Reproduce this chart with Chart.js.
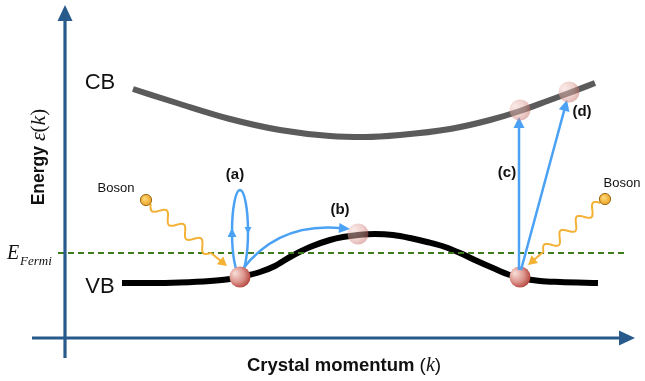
<!DOCTYPE html>
<html>
<head>
<meta charset="utf-8">
<script src="https://cdn.jsdelivr.net/npm/chart.js@4.4.1/dist/chart.umd.min.js"></script>
<style>
  html, body { margin: 0; padding: 0; background: #ffffff; }
  canvas { display: block; }
</style>
</head>
<body>
<canvas id="band" width="645" height="381"></canvas>
<script>
// Band structure sketch: energy versus crystal momentum k (arbitrary units)

// Conduction band
const cbK = [13.6, 23.0, 33.0, 43.0, 53.0, 60.0, 67.0, 77.0, 85.0, 91.0, 97.0, 100.8, 106.0];
const cbE = [49.8, 46.8, 43.8, 41.6, 40.4, 40.2, 40.6, 41.8, 43.6, 45.4, 47.6, 49.0, 51.0];

// Valence band
const vbK = [11.4, 17.0, 23.0, 29.0, 33.0, 35.0, 39.0, 42.0, 45.0, 49.0, 53.0, 55.6, 58.6, 62.0,
             65.6, 69.0, 72.4, 76.0, 79.0, 82.4, 85.6, 89.0, 91.2, 95.0, 99.0, 106.6];
const vbE = [11.0, 11.0, 11.1, 11.4, 11.8, 12.2, 13.2, 14.4, 16.2, 18.2, 19.6, 20.2, 20.6, 20.8,
             20.6, 20.0, 19.2, 18.2, 17.0, 15.4, 14.0, 12.6, 12.0, 11.4, 11.2, 11.0];

// Fermi level and its drawn extent in k
const fermiLevel = 17.0;
const fermiK = [-1.4, 112.0];

// Carriers: position, and whether occupied (solid) or the final state (faded)
const carrierK = [35.0, 91.0, 58.6, 91.0, 100.8];
const carrierE = [12.2, 12.2, 20.8, 45.6, 49.2];
const carrierSolid = [true, true, false, false, false];

// Transitions (a) loop, (b) curved, (c) vertical, (d) oblique
const loopA = { k: 35.0, e: 21.2, rk: 1.6, re: 8.4 };
const arrowB = { from: [35.4, 13.6], ctrl: [42.6, 23.2], to: [57.0, 21.8] };
const arrowC = { from: [90.8, 13.6], to: [90.8, 44.2] };
const arrowD = { from: [91.2, 13.6], to: [100.4, 47.6] };

// Bosons: source position and where the wavy arrow points
const bosonK = [16.2, 108.0];
const bosonE = [27.6, 27.8];
const bosonTipK = [32.4, 92.6];
const bosonTipE = [14.4, 14.6];

// Text
const transitionLabels = ['(a)', '(b)', '(c)', '(d)'];
const transitionLabelK = [34.0, 55.0, 88.4, 103.4];
const transitionLabelE = [32.6, 25.6, 33.0, 45.2];

const SANS = '"Liberation Sans", Arial, Helvetica, sans-serif';
const SERIF = '"Liberation Serif", "Times New Roman", serif';
const AXIS_BLUE = '#285a8c';
const ARROW_BLUE = '#4ba2f4';
const BOSON_ORANGE = '#f3b235';

function pts(ks, es) { return ks.map((k, i) => ({ x: k, y: es[i] })); }

function head(ctx, tx, ty, ang, len, half, color) {
  const c = Math.cos(ang), s = Math.sin(ang);
  ctx.save();
  ctx.fillStyle = color;
  ctx.beginPath();
  ctx.moveTo(tx, ty);
  ctx.lineTo(tx - len * c + half * s, ty - len * s - half * c);
  ctx.lineTo(tx - len * c - half * s, ty - len * s + half * c);
  ctx.closePath();
  ctx.fill();
  ctx.restore();
}

function straightArrow(ctx, x0, y0, x1, y1, color, width, len, half) {
  const ang = Math.atan2(y1 - y0, x1 - x0);
  ctx.save();
  ctx.strokeStyle = color;
  ctx.lineWidth = width;
  ctx.beginPath();
  ctx.moveTo(x0, y0);
  ctx.lineTo(x1 - (len - 2) * Math.cos(ang), y1 - (len - 2) * Math.sin(ang));
  ctx.stroke();
  ctx.restore();
  head(ctx, x1, y1, ang, len, half, color);
}

function wavyArrow(ctx, x0, y0, x1, y1) {
  const len = 9, half = 5;
  const ang = Math.atan2(y1 - y0, x1 - x0);
  const ux = Math.cos(ang), uy = Math.sin(ang);
  const nx = -uy, ny = ux;
  const ex = x1 - (len - 2) * ux, ey = y1 - (len - 2) * uy;
  const L = Math.hypot(ex - x0, ey - y0);
  const waveEnd = 0.85, periods = 3.5, amp = 5;
  ctx.save();
  ctx.strokeStyle = BOSON_ORANGE;
  ctx.lineWidth = 2;
  ctx.lineJoin = 'round';
  ctx.beginPath();
  for (let i = 0; i <= 200; i++) {
    const t = i / 200;
    const w = t <= waveEnd ? amp * Math.sin(2 * Math.PI * periods * t / waveEnd) : 0;
    const x = x0 + ux * L * t + nx * w;
    const y = y0 + uy * L * t + ny * w;
    if (i === 0) ctx.moveTo(x, y); else ctx.lineTo(x, y);
  }
  ctx.stroke();
  ctx.restore();
  head(ctx, x1, y1, ang, len, half, BOSON_ORANGE);
}

function carrier(ctx, x, y, solid) {
  const r = 10.5;
  ctx.save();
  const g = ctx.createRadialGradient(x - 5, y - 4, 1, x - 2, y - 1, r + 3);
  if (solid) {
    g.addColorStop(0, '#f6d8d2');
    g.addColorStop(0.55, '#db9189');
    g.addColorStop(1, '#ab3a32');
  } else {
    ctx.globalAlpha = 0.5;
    g.addColorStop(0, '#f4d2cc');
    g.addColorStop(0.6, '#e0a49c');
    g.addColorStop(1, '#c0605a');
  }
  ctx.fillStyle = g;
  ctx.beginPath();
  ctx.arc(x, y, r, 0, Math.PI * 2);
  ctx.fill();
  ctx.restore();
}

function boson(ctx, x, y) {
  ctx.save();
  const g = ctx.createRadialGradient(x - 1.5, y - 1.5, 0.5, x, y, 6.5);
  g.addColorStop(0, '#fcd877');
  g.addColorStop(1, '#eb9d1e');
  ctx.fillStyle = g;
  ctx.strokeStyle = '#9a6a12';
  ctx.lineWidth = 1;
  ctx.beginPath();
  ctx.arc(x, y, 5.6, 0, Math.PI * 2);
  ctx.fill();
  ctx.stroke();
  ctx.restore();
}

// Draw a run of text pieces with individual fonts, centred on (cx, cy)
function richText(ctx, pieces, cx, cy) {
  let total = 0;
  pieces.forEach(p => { ctx.font = p.font; p.w = ctx.measureText(p.t).width; total += p.w; });
  let x = cx - total / 2;
  ctx.textBaseline = 'middle';
  ctx.textAlign = 'left';
  pieces.forEach(p => { ctx.font = p.font; ctx.fillText(p.t, x, cy + (p.dy || 0)); x += p.w; });
}

const sketch = {
  id: 'sketch',
  afterDatasetsDraw(chart) {
    const ctx = chart.ctx;
    const X = v => chart.scales.x.getPixelForValue(v);
    const Y = v => chart.scales.y.getPixelForValue(v);

    // Axes with arrowheads
    const ox = X(0), oy = Y(0);
    straightArrow(ctx, ox, Y(-4.0), ox, Y(66.6), AXIS_BLUE, 3.2, 16, 7.5);
    straightArrow(ctx, X(-6.6), oy, X(114.0), oy, AXIS_BLUE, 3.2, 16, 7.5);

    // Boson sources and wavy arrows
    for (let i = 0; i < bosonK.length; i++) {
      const bx = X(bosonK[i]), by = Y(bosonE[i]);
      const tx = X(bosonTipK[i]), ty = Y(bosonTipE[i]);
      const a = Math.atan2(ty - by, tx - bx);
      wavyArrow(ctx, bx + 6 * Math.cos(a), by + 6 * Math.sin(a), tx, ty);
      boson(ctx, bx, by);
    }

    // (a) closed loop transition
    ctx.save();
    ctx.strokeStyle = ARROW_BLUE;
    ctx.lineWidth = 2.5;
    const lx = X(loopA.k), ly = Y(loopA.e);
    const rx = X(loopA.k + loopA.rk) - lx, ry = ly - Y(loopA.e + loopA.re);
    ctx.beginPath();
    ctx.ellipse(lx, ly, rx, ry, 0, 0, Math.PI * 2);
    ctx.stroke();
    ctx.restore();
    head(ctx, lx - rx, ly - 4, -Math.PI / 2, 9, 4.5, ARROW_BLUE);
    head(ctx, lx + rx, ly + 2, Math.PI / 2, 7, 3.5, ARROW_BLUE);

    // (b) curved intraband transition
    {
      const x0 = X(arrowB.from[0]), y0 = Y(arrowB.from[1]);
      const cx = X(arrowB.ctrl[0]), cy = Y(arrowB.ctrl[1]);
      const x1 = X(arrowB.to[0]), y1 = Y(arrowB.to[1]);
      const ang = Math.atan2(y1 - cy, x1 - cx);
      const ex = x1 - 8 * Math.cos(ang), ey = y1 - 8 * Math.sin(ang);
      ctx.save();
      ctx.strokeStyle = ARROW_BLUE;
      ctx.lineWidth = 2.5;
      ctx.beginPath();
      ctx.moveTo(x0, y0);
      ctx.quadraticCurveTo(cx, cy, ex, ey);
      ctx.stroke();
      ctx.restore();
      head(ctx, x1, y1, ang, 11, 5, ARROW_BLUE);
    }

    // Solid carriers in the valence band
    for (let i = 0; i < carrierK.length; i++) {
      if (carrierSolid[i]) carrier(ctx, X(carrierK[i]), Y(carrierE[i]), true);
    }

    // (c) and (d) interband transitions
    straightArrow(ctx, X(arrowC.from[0]), Y(arrowC.from[1]), X(arrowC.to[0]), Y(arrowC.to[1]), ARROW_BLUE, 2.5, 11, 5.5);
    straightArrow(ctx, X(arrowD.from[0]), Y(arrowD.from[1]), X(arrowD.to[0]), Y(arrowD.to[1]), ARROW_BLUE, 2.5, 11, 5.5);

    // Final states (faded)
    for (let i = 0; i < carrierK.length; i++) {
      if (!carrierSolid[i]) carrier(ctx, X(carrierK[i]), Y(carrierE[i]), false);
    }

    // Labels
    ctx.save();
    ctx.fillStyle = '#111111';
    ctx.textAlign = 'center';
    ctx.textBaseline = 'middle';
    ctx.font = 'bold 15px ' + SANS;
    transitionLabels.forEach((t, i) => ctx.fillText(t, X(transitionLabelK[i]), Y(transitionLabelE[i])));

    ctx.font = '22px ' + SANS;
    ctx.fillText('CB', 100, 83);
    ctx.fillText('VB', 100, 287);

    ctx.font = '13px ' + SANS;
    ctx.fillText('Boson', 116, 188);
    ctx.fillText('Boson', 622, 183);

    // Fermi energy symbol
    ctx.textAlign = 'left';
    ctx.textBaseline = 'alphabetic';
    ctx.font = 'italic 20px ' + SERIF;
    ctx.fillText('E', 7, 259);
    ctx.font = 'italic 13px ' + SERIF;
    ctx.fillText('Fermi', 20, 265);

    // Axis titles
    richText(ctx, [
      { t: 'Crystal momentum ', font: 'bold 18.5px ' + SANS },
      { t: '(', font: '19px ' + SANS },
      { t: 'k', font: 'italic 20px ' + SERIF },
      { t: ')', font: '19px ' + SANS }
    ], 344, 366);

    ctx.translate(39, 157);
    ctx.rotate(-Math.PI / 2);
    richText(ctx, [
      { t: 'Energy ', font: 'bold 17.5px ' + SANS },
      { t: '\u03b5', font: 'italic 22px ' + SERIF },
      { t: '(', font: '21px ' + SERIF },
      { t: 'k', font: 'italic 22px ' + SERIF },
      { t: ')', font: '21px ' + SERIF }
    ], 0, 0);
    ctx.restore();
  }
};

new Chart(document.getElementById('band'), {
  type: 'scatter',
  data: {
    datasets: [
      {
        label: 'Fermi level',
        data: pts(fermiK, [fermiLevel, fermiLevel]),
        showLine: true,
        borderColor: '#3e7d1f',
        borderWidth: 2,
        borderDash: [6, 4],
        pointRadius: 0,
        order: 0
      },
      {
        label: 'CB',
        data: pts(cbK, cbE),
        showLine: true,
        borderColor: '#5b5b5b',
        borderWidth: 6,
        cubicInterpolationMode: 'monotone',
        pointRadius: 0,
        order: 1
      },
      {
        label: 'VB',
        data: pts(vbK, vbE),
        showLine: true,
        borderColor: '#000000',
        borderWidth: 6,
        cubicInterpolationMode: 'monotone',
        pointRadius: 0,
        order: 2
      }
    ]
  },
  options: {
    responsive: false,
    animation: false,
    devicePixelRatio: 1,
    layout: { padding: 0 },
    plugins: { legend: { display: false }, tooltip: { enabled: false } },
    scales: {
      x: { type: 'linear', min: -13, max: 116, display: false },
      y: { type: 'linear', min: -8.6, max: 67.6, display: false }
    }
  },
  plugins: [sketch]
});
</script>
</body>
</html>
